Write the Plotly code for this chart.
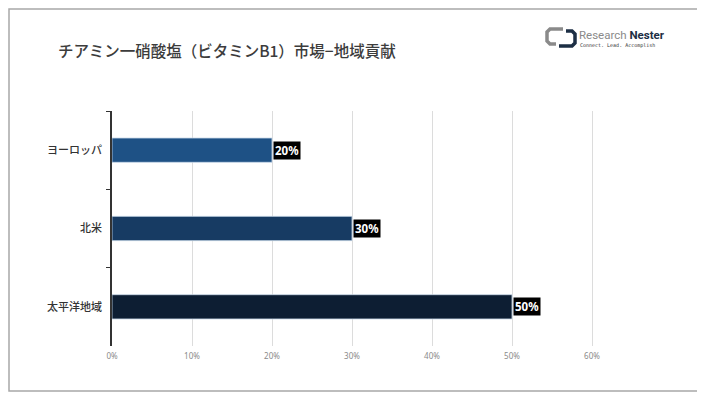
import plotly.graph_objects as go

regions = ["ヨーロッパ", "北米", "太平洋地域"]
shares = [20, 30, 50]
bar_colors = ["#1e5185", "#173b63", "#0d1e33"]
tick_vals = [0, 10, 20, 30, 40, 50, 60]
tick_text = ["0%", "10%", "20%", "30%", "40%", "50%", "60%"]
title_text = "チアミン一硝酸塩（ビタミンB1）市場−地域貢献"

OFF = 8  # page body margin
W, H = 697, 390
L, T, R, B = 104, 103, 97, 52
PW, PH = W - L - R, H - T - B


def px(xp):
    return (xp - OFF - L) / PW


def py(yp):
    return (H - B - (yp - OFF)) / PH


fig = go.Figure()
fig.add_trace(go.Bar(
    y=regions, x=shares, orientation="h",
    marker=dict(color=bar_colors, line=dict(color="#c8d8e8", width=0.8)),
    width=0.31, hoverinfo="skip",
))

for r, v in zip(regions, shares):
    fig.add_annotation(
        x=v, y=r, xref="x", yref="y", text=f"<b>{v}%</b>", showarrow=False,
        xanchor="left", xshift=1, bgcolor="#000000", borderpad=1,
        font=dict(family="Noto Sans, DejaVu Sans", size=11.5, color="#ffffff"),
    )

fig.update_layout(
    width=W, height=H,
    margin=dict(l=L, r=R, t=T, b=B),
    paper_bgcolor="#ffffff", plot_bgcolor="#ffffff",
    showlegend=False,
    font=dict(family="Noto Sans CJK JP, Noto Sans", color="#333"),
)
fig.update_xaxes(
    range=[0, 62], tickvals=tick_vals, ticktext=tick_text,
    showgrid=True, gridcolor="#dcdcdc", gridwidth=1,
    zeroline=False, showline=False,
    tickfont=dict(size=8, color="#8a8a8a", family="Noto Sans"),
    ticks="", ticklabelstandoff=4,
)
fig.update_yaxes(
    autorange="reversed", showgrid=False, zeroline=False,
    showline=True, linecolor="#333", linewidth=1.5,
    ticks="outside", ticklen=4, tickcolor="#333", tickson="boundaries",
    tickfont=dict(size=11, color="#333", family="Noto Sans CJK JP", weight=500),
    ticklabelstandoff=6,
)

# Title
fig.add_annotation(
    x=px(56), y=py(50), xref="paper", yref="paper", xanchor="left", yanchor="middle",
    text=title_text, showarrow=False,
    font=dict(family="Noto Sans CJK JP", size=15.5, color="#3c3c3c", weight=500),
)

# Logo
fig.add_shape(type="path", xref="paper", yref="paper",
              path=(f"M {px(563)},{py(29)} L {px(550)},{py(29)} L {px(547)},{py(32)} "
                    f"L {px(547)},{py(41)} L {px(550)},{py(44)} L {px(556)},{py(44)}"),
              line=dict(color="#8a8a8a", width=3.5))
fig.add_shape(type="path", xref="paper", yref="paper",
              path=(f"M {px(559)},{py(46)} L {px(572)},{py(46)} L {px(575)},{py(43)} "
                    f"L {px(575)},{py(34)} L {px(572)},{py(31)} L {px(566)},{py(31)}"),
              line=dict(color="#1c2e44", width=3.5))
fig.add_annotation(
    x=px(577), y=py(35), xref="paper", yref="paper", xanchor="left", yanchor="middle",
    text="<span style='color:#8a8a8a'>Research </span><b><span style='color:#1c2e44'>Nester</span></b>",
    showarrow=False, font=dict(family="Roboto", size=11.5),
)
fig.add_annotation(
    x=px(578), y=py(45), xref="paper", yref="paper", xanchor="left", yanchor="middle",
    text="Connect. Lead. Accomplish", showarrow=False,
    font=dict(family="DejaVu Sans Mono", size=5, color="#333"),
)

# Outer border
fig.add_shape(type="rect", xref="paper", yref="paper",
              x0=px(9), x1=px(698), y0=py(391), y1=py(9),
              line=dict(color="#a8a8a8", width=1.5), layer="above")

fig.write_html("out.html")
